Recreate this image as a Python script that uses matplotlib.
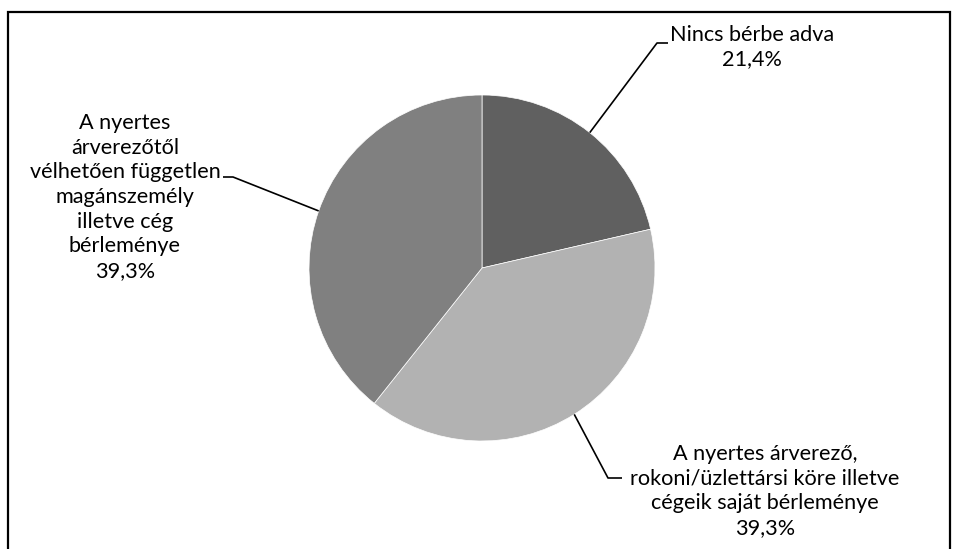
import numpy as np
import matplotlib.pyplot as plt

labels = ["Nincs bérbe adva",
          "A nyertes árverező,\nrokoni/üzlettársi köre illetve\ncégeik saját bérleménye",
          "A nyertes\nárverezőtől\nvélhetően független\nmagánszemély\nilletve cég\nbérleménye"]
shares = [21.4, 39.3, 39.3]
colors = ["#606060", "#b2b2b2", "#808080"]

W, H = 958, 549


def main():
    plt.rcParams["font.family"] = ["Lato", "DejaVu Sans"]
    fig = plt.figure(figsize=(W / 100, H / 100), dpi=100)
    ax = fig.add_axes([0, 0, 1, 1])

    cx, cy, r = 482, H - 268, 173
    wedges, _ = ax.pie(shares, colors=colors, startangle=90, counterclock=False,
                       center=(cx, cy), radius=r, frame=True,
                       wedgeprops={"edgecolor": "white", "linewidth": 0.5})
    ax.set_xlim(0, W)
    ax.set_ylim(0, H)
    ax.set_aspect("equal")
    ax.axis("off")

    # label layout: elbow point, stub end, text centre (pixel coords from top)
    layout = [
        ((657, 43), (668, 43), (752, 47)),
        ((608, 478), (622, 478), (765, 491)),
        ((233, 177), (223, 177), (125, 197)),
    ]
    for w, lab, val, (elbow, stub, txt) in zip(wedges, labels, shares, layout):
        ang = np.deg2rad((w.theta1 + w.theta2) / 2)
        p0 = (cx + r * np.cos(ang), cy + r * np.sin(ang))
        xs = [p0[0], elbow[0], stub[0]]
        ys = [p0[1], H - elbow[1], H - stub[1]]
        ax.plot(xs, ys, color="black", linewidth=1.2, solid_capstyle="butt")
        text = lab + "\n" + "{:.1f}%".format(val).replace(".", ",")
        ax.text(txt[0], H - txt[1], text, ha="center", va="center",
                fontsize=15.6, linespacing=1.29, color="black")

    # outer frame (bottom edge cut off)
    ax.plot([8, 8, 950, 950], [0, H - 12, H - 12, 0], color="black",
            linewidth=1.6, solid_joinstyle="miter", clip_on=False)

    fig.savefig("out.png", dpi=100)


if __name__ == '__main__':
    main()
